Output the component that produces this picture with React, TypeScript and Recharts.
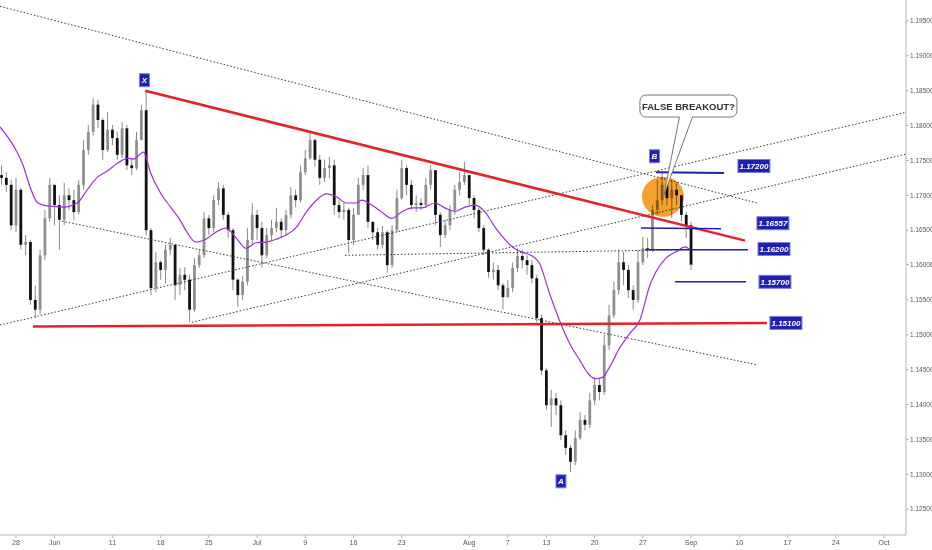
import React from "react";
import {
  ComposedChart,
  Bar,
  Line,
  XAxis,
  YAxis,
  ReferenceLine,
  ReferenceDot,
} from "recharts";

// EURUSD, 12h candles. t = trading days since May 28.
const firstT = -1.5;
const stepT = 0.5;
const firstOpen = 1.1729;

const closes = [
  1.1725, 1.1715, 1.1657, 1.1708, 1.1629, 1.1633, 1.155, 1.1536, 1.1614, 1.1667,
  1.1715, 1.1686, 1.1665, 1.17, 1.1693, 1.1676, 1.1715, 1.1765, 1.1791, 1.183,
  1.1808, 1.1765, 1.1794, 1.1782, 1.1758, 1.1796, 1.1743, 1.1739, 1.1779, 1.1822,
  1.165, 1.1567, 1.1604, 1.1593, 1.1622, 1.1629, 1.1571, 1.1586, 1.1579, 1.1536,
  1.16, 1.1614, 1.1667, 1.1653, 1.1693, 1.171, 1.1672, 1.165, 1.1579, 1.1557,
  1.1576, 1.1636, 1.1672, 1.1653, 1.1614, 1.1643, 1.1653, 1.1662, 1.165, 1.1672,
  1.17, 1.1693, 1.1733, 1.1753, 1.1779, 1.1751, 1.1725, 1.1739, 1.1743, 1.1686,
  1.1676, 1.1679, 1.1636, 1.1672, 1.1715, 1.1729, 1.1662, 1.1647, 1.1629, 1.1647,
  1.16, 1.165, 1.1696, 1.1739, 1.1715, 1.1686, 1.1689, 1.1686, 1.1715, 1.1736,
  1.1672, 1.1643, 1.1657, 1.1679, 1.1708, 1.1719, 1.1729, 1.1696, 1.1679, 1.1653,
  1.1622, 1.159, 1.1593, 1.1571, 1.1554, 1.1567, 1.1596, 1.1613, 1.1607, 1.16,
  1.1581, 1.1524, 1.1449, 1.1399, 1.1409, 1.1399, 1.1356, 1.1338, 1.1318, 1.1352,
  1.1378, 1.1371, 1.1406, 1.1428, 1.1418, 1.1485, 1.1528, 1.1564, 1.1604, 1.1593,
  1.1564, 1.155, 1.1604, 1.1624, 1.1622, 1.1679, 1.1693, 1.1715, 1.1696, 1.1708,
  1.17, 1.1672, 1.1657, 1.16006,
];

const highs = [
  1.1743, 1.1733, 1.1722, 1.1725, 1.171, 1.1643, 1.1636, 1.1571, 1.1622, 1.1679,
  1.1725, 1.1708, 1.17, 1.1718, 1.171, 1.1708, 1.1722, 1.1779, 1.1801, 1.1839,
  1.1837, 1.1811, 1.1819, 1.1801, 1.1791, 1.1805, 1.1801, 1.1753, 1.1791, 1.183,
  1.1851, 1.1653, 1.1619, 1.1607, 1.1629, 1.1639, 1.1629, 1.1596, 1.1597, 1.1586,
  1.161, 1.1622, 1.1676, 1.1672, 1.17, 1.1719, 1.1715, 1.1676, 1.1653, 1.1581,
  1.1584, 1.1653, 1.1689, 1.1679, 1.1662, 1.1653, 1.1665, 1.1682, 1.1667, 1.1679,
  1.1712, 1.1708, 1.1743, 1.1765, 1.1789, 1.1782, 1.1758, 1.1751, 1.1755, 1.1751,
  1.1693, 1.1689, 1.1682, 1.1682, 1.1725, 1.1739, 1.1743, 1.1662, 1.1653, 1.1656,
  1.165, 1.1657, 1.1708, 1.1751, 1.1743, 1.1722, 1.17, 1.1696, 1.1725, 1.1743,
  1.1736, 1.1675, 1.1665, 1.1686, 1.1715, 1.1733, 1.1748, 1.1729, 1.17, 1.1682,
  1.1657, 1.1624, 1.1604, 1.16, 1.1574, 1.1579, 1.1604, 1.1624, 1.1622, 1.1614,
  1.1607, 1.1586, 1.1529, 1.1452, 1.1421, 1.1417, 1.1406, 1.1363, 1.1342, 1.1363,
  1.1389, 1.1385, 1.1417, 1.1439, 1.1438, 1.15, 1.1543, 1.1576, 1.1622, 1.1619,
  1.16, 1.1571, 1.1622, 1.164, 1.1639, 1.1686, 1.1722, 1.1733, 1.1715, 1.1722,
  1.1718, 1.17, 1.1676, 1.1662,
];

const lows = [
  1.1715, 1.1705, 1.165, 1.1647, 1.1622, 1.1614, 1.1543, 1.1524, 1.1529, 1.1607,
  1.1662, 1.1657, 1.1622, 1.1657, 1.1679, 1.1665, 1.1672, 1.1708, 1.1758, 1.1786,
  1.1796, 1.1751, 1.1762, 1.1772, 1.1751, 1.1753, 1.1736, 1.1729, 1.1736, 1.1779,
  1.1643, 1.1557, 1.1561, 1.1579, 1.1574, 1.1614, 1.155, 1.1557, 1.1564, 1.1518,
  1.1533, 1.1596, 1.161, 1.1643, 1.1647, 1.1686, 1.1665, 1.1639, 1.1564, 1.154,
  1.155, 1.1571, 1.1629, 1.1636, 1.1596, 1.161, 1.1636, 1.1647, 1.1639, 1.1643,
  1.1667, 1.1683, 1.169, 1.1729, 1.1751, 1.1741, 1.1715, 1.1719, 1.1725, 1.1672,
  1.1667, 1.1665, 1.1617, 1.1629, 1.1672, 1.1708, 1.1653, 1.1636, 1.1622, 1.1624,
  1.1589, 1.1596, 1.1647, 1.1693, 1.17, 1.1679, 1.1676, 1.1679, 1.1682, 1.1708,
  1.1657, 1.1626, 1.1639, 1.165, 1.1672, 1.17, 1.1715, 1.1686, 1.1667, 1.1647,
  1.1614, 1.1582, 1.1579, 1.1564, 1.1536, 1.1553, 1.1561, 1.159, 1.1596, 1.1586,
  1.1574, 1.1518, 1.1442, 1.1392, 1.1368, 1.1385, 1.1349, 1.1328, 1.1303, 1.1313,
  1.1349, 1.1363, 1.1366, 1.1399, 1.1406, 1.1414, 1.1478, 1.1524, 1.1557, 1.1571,
  1.1553, 1.1536, 1.1546, 1.16, 1.161, 1.1619, 1.1672, 1.1686, 1.1686, 1.1667,
  1.1686, 1.1662, 1.1639, 1.1593,
];

// purple moving average
const maT = [
  -1.67, -0.63, 0.1, 0.73, 1.46, 2.19, 2.81, 3.85, 4.9, 6.35, 7.4, 8.44, 9.48,
  10.52, 11.56, 12.19, 13.23, 13.96, 15, 16.04, 17.08, 17.6, 18.65, 19.69, 20.73,
  21.77, 22.81, 23.85, 24.9, 25.94, 26.98, 28.02, 29.06, 30.1, 31.15, 32.19,
  33.23, 34.27, 35.31, 35.83, 36.88, 37.92, 38.96, 40, 41.04, 42.08, 43.44,
  44.48, 45.52, 46.56, 47.6, 48.65, 49.69, 50.73, 51.77, 52.81, 53.54, 54.27,
  55.31, 56.35, 57.4, 58.44, 59.48, 60.1, 60.83, 61.56, 62.6, 63.65, 64.69,
  65.73, 66.35, 67.4, 68.44, 69.38, 69.9,
];
const maValues = [
  1.1798, 1.1779, 1.1762, 1.1743, 1.1712, 1.169, 1.1686, 1.1684, 1.1683, 1.1689,
  1.1708, 1.1726, 1.1735, 1.1746, 1.1753, 1.1752, 1.1762, 1.1732, 1.1703, 1.1683,
  1.1663, 1.165, 1.1633, 1.1637, 1.1647, 1.1653, 1.1639, 1.1624, 1.1632, 1.1633,
  1.1637, 1.1643, 1.1654, 1.1676, 1.1693, 1.1702, 1.1698, 1.1689, 1.1689, 1.1693,
  1.1686, 1.1676, 1.1667, 1.1676, 1.1682, 1.1682, 1.1689, 1.1682, 1.1677, 1.1683,
  1.1686, 1.1676, 1.1654, 1.1636, 1.1623, 1.1617, 1.1613, 1.1603, 1.156, 1.1521,
  1.1488, 1.1464, 1.1442, 1.1437, 1.1439, 1.1454, 1.1481, 1.1502, 1.1521, 1.1571,
  1.159, 1.161, 1.1619, 1.1626, 1.1622,
];

const dateTicks = [0, 4, 10, 15, 20, 25, 30, 35, 40, 47, 51, 55, 60, 65, 70, 75, 80, 85, 90];
const dateLabels = ["28", "Jun", "11", "18", "25", "Jul", "9", "16", "23", "Aug", "7", "13", "20", "27", "Sep", "10", "17", "24", "Oct"];
const priceTicks = [
  1.125, 1.13, 1.135, 1.14, 1.145, 1.15, 1.155, 1.16006, 1.165, 1.17, 1.175,
  1.18, 1.185, 1.19, 1.195,
];

// drawn lines: [t1, price1, t2, price2]
const redLines = [
  [13.4, 1.185, 75.6, 1.1635],
  [1.76, 1.1512, 77.87, 1.1517],
];
const dottedLines = [
  [-1.66, 1.1971, 76.84, 1.1689],
  [-1.66, 1.1514, 92.29, 1.1819],
  [18.25, 1.1518, 92.29, 1.1759],
  [4.77, 1.1663, 76.84, 1.1457],
  [34.11, 1.1614, 69.58, 1.1622],
];
const blueLines = [
  [66.36, 1.1733, 73.41, 1.1732],
  [64.81, 1.1653, 73.1, 1.1652],
  [65.22, 1.1622, 75.9, 1.1622],
  [68.33, 1.1576, 75.69, 1.1576],
];
const tagNames = ["1.17200", "1.16557", "1.16200", "1.15700", "1.15100"];
const tagT = [76.52, 78.49, 78.6, 78.7, 79.84];
const tagPrice = [1.1742, 1.166, 1.1623, 1.1576, 1.1517];
const pointNames = ["X", "B", "A"];
const pointT = [13.32, 66.21, 56.51];
const pointPrice = [1.1865, 1.1756, 1.129];

const candles = closes.map((c, i) => {
  const open = i === 0 ? firstOpen : closes[i - 1];
  const high = Math.max(highs[i], open, c);
  const low = Math.min(lows[i], open, c);
  return { t: firstT + i * stepT, open, close: c, high, low, range: [low, high] };
});
const maData = maT.map((t, i) => ({ t, ma: maValues[i] }));

const Candle = (props: any) => {
  const { x, y, width, height, payload } = props;
  if (payload == null || x == null || y == null) return null;
  const top = Math.min(y, y + height);
  const h = Math.abs(height);
  const { open, close, high, low } = payload;
  const span = high - low || 1e-9;
  const yOf = (v: number) => top + ((high - v) / span) * h;
  const bTop = yOf(Math.max(open, close));
  const bBot = yOf(Math.min(open, close));
  const cx = x + (width || 0) / 2;
  const up = close >= open;
  return (
    <g>
      <line x1={cx} x2={cx} y1={top} y2={top + h} stroke="#8a8a8a" strokeWidth={1} />
      <rect x={cx - 1.4} y={bTop} width={2.8} height={Math.max(1, bBot - bTop)} fill={up ? "#8f8f8f" : "#111"} />
    </g>
  );
};

const priceTag = (text: string, w: number) => (props: any) => {
  const { cx, cy } = props;
  return (
    <g>
      <rect x={cx - w / 2} y={cy - 6.5} width={w} height={13} fill="#2020b0" stroke="#7d7de0" strokeWidth={1} />
      <text x={cx} y={cy + 3} textAnchor="middle" fill="#fff" fontSize={8} fontWeight="bold" fontStyle="italic" fontFamily="Liberation Sans, Arial, sans-serif">
        {text}
      </text>
    </g>
  );
};

// multiply so the candles stay visible through the highlight
const orangeBlob = (props: any) => {
  const { cx, cy } = props;
  return <ellipse cx={cx} cy={cy} rx={21} ry={20} fill="#f4a02a" style={{ mixBlendMode: "multiply" }} />;
};

const callout = (props: any) => {
  const { cx, cy } = props;
  return (
    <g fontFamily="Liberation Sans, Arial, sans-serif">
      <rect x={cx - 48.5} y={cy - 11} width={97} height={22} rx={6} fill="#fff" stroke="#777" strokeWidth={1} />
      <polygon points={`${cx - 9},${cy + 10} ${cx + 4},${cy + 10} ${cx - 24.5},${cy + 89}`} fill="#fff" />
      <line x1={cx - 9} y1={cy + 11} x2={cx - 24.5} y2={cy + 89} stroke="#777" strokeWidth={1} />
      <line x1={cx + 4} y1={cy + 11} x2={cx - 24.5} y2={cy + 89} stroke="#777" strokeWidth={1} />
      <text x={cx} y={cy + 3.5} textAnchor="middle" fontSize={9.5} fontWeight="bold" fill="#333">
        FALSE BREAKOUT?
      </text>
    </g>
  );
};

const seg = (l: number[]) => [
  { x: l[0], y: l[1] },
  { x: l[2], y: l[3] },
];

export default function App() {
  return (
    <div style={{ position: "absolute", left: 0, top: 0, width: 932, height: 550, background: "#fff" }}>
      <ComposedChart width={932} height={550} data={candles} margin={{ top: 0, right: 0, left: 0, bottom: 0 }}>
        <XAxis
          dataKey="t"
          type="number"
          domain={[-1.659, 92.29]}
          allowDataOverflow
          ticks={dateTicks}
          tickFormatter={(v: number) => dateLabels[dateTicks.indexOf(v)] ?? ""}
          height={15}
          tickSize={3}
          stroke="#b5b5b5"
          tick={{ fill: "#555", fontSize: 7, fontFamily: "Liberation Sans, Arial, sans-serif" }}
          interval={0}
        />
        <YAxis
          orientation="right"
          type="number"
          domain={[1.1213, 1.198]}
          allowDataOverflow
          ticks={priceTicks}
          tickFormatter={(v: number) => v.toFixed(5)}
          width={26}
          tickSize={3}
          tickMargin={1}
          stroke="#b5b5b5"
          tick={{ fill: "#555", fontSize: 6.5, fontFamily: "Liberation Sans, Arial, sans-serif" }}
          interval={0}
        />
        {dottedLines.map((l, i) => (
          <ReferenceLine key={"d" + i} segment={seg(l)} stroke="#333" strokeWidth={1} strokeDasharray="1.5 2" ifOverflow="visible" />
        ))}
        <Bar dataKey="range" barSize={3} shape={Candle} isAnimationActive={false} />
        <Line data={maData} dataKey="ma" type="monotone" stroke="#9b30d9" strokeWidth={1.2} dot={false} activeDot={false} isAnimationActive={false} />
        {redLines.map((l, i) => (
          <ReferenceLine key={"r" + i} segment={seg(l)} stroke="#e8202a" strokeWidth={2.5} ifOverflow="visible" />
        ))}
        <ReferenceDot x={67.09} y={1.1698} r={20} shape={orangeBlob} ifOverflow="visible" />
        {blueLines.map((l, i) => (
          <ReferenceLine key={"b" + i} segment={seg(l)} stroke="#1f1fa8" strokeWidth={i === 0 ? 2 : 1.5} ifOverflow="visible" />
        ))}
        {tagNames.map((n, i) => (
          <ReferenceDot key={n} x={tagT[i]} y={tagPrice[i]} r={6} shape={priceTag(n, 32)} ifOverflow="visible" />
        ))}
        {pointNames.map((n, i) => (
          <ReferenceDot key={n} x={pointT[i]} y={pointPrice[i]} r={6} shape={priceTag(n, 10)} ifOverflow="visible" />
        ))}
        <ReferenceDot x={69.73} y={1.1828} r={10} shape={callout} ifOverflow="visible" />
      </ComposedChart>
    </div>
  );
}
